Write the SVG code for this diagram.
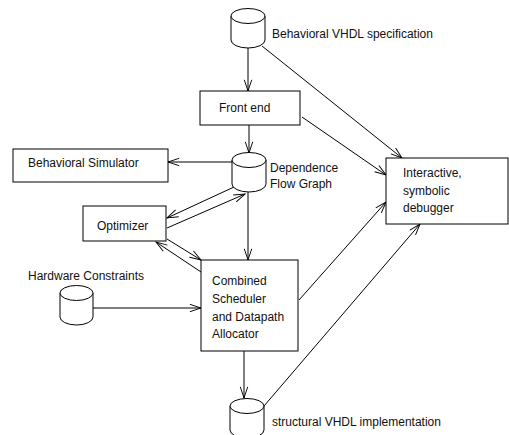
<svg xmlns="http://www.w3.org/2000/svg" width="509" height="435" viewBox="0 0 509 435">
<defs>
<style>
.box{fill:#fff;stroke:#000;stroke-width:1}
.cyl{fill:#fff;stroke:#000;stroke-width:1}
.lbl{font-family:"Liberation Sans",Arial,sans-serif;font-size:12px;fill:#111}
.conn line{stroke:#000;stroke-width:1;marker-end:url(#arr)}
</style>
<marker id="arr" markerUnits="userSpaceOnUse" markerWidth="14" markerHeight="14" viewBox="-13 -6 15 12" refX="0" refY="0" orient="auto">
<path d="M -12 -4 L 0 0 L -12 4" fill="none" stroke="#000" stroke-width="1"/>
</marker>
</defs>
<rect width="509" height="435" fill="#fff"/>
<g class="conn" id="connectors">
<line x1="248" y1="48" x2="248" y2="91"/>
<line x1="262" y1="46" x2="402" y2="158"/>
<line x1="302" y1="117" x2="386" y2="175"/>
<line x1="249" y1="125" x2="249" y2="153"/>
<line x1="232" y1="162" x2="168" y2="162"/>
<line x1="234" y1="187" x2="167" y2="218"/>
<line x1="167" y1="228" x2="245" y2="194"/>
<line x1="248" y1="192" x2="248" y2="260"/>
<line x1="167" y1="239" x2="201" y2="260"/>
<line x1="201" y1="272" x2="156" y2="242"/>
<line x1="93" y1="308" x2="201" y2="308"/>
<line x1="299" y1="300" x2="386" y2="202"/>
<line x1="244" y1="351" x2="244" y2="398"/>
<line x1="264" y1="406" x2="420" y2="224"/>
</g>
<g id="behavioral-vhdl">
<path class="cyl" d="M231 16 L231 40 A17 8 0 0 0 265 40 L265 16"/>
<ellipse class="cyl" cx="248" cy="16" rx="17" ry="7.5"/>
<text class="lbl" x="272" y="38">Behavioral VHDL specification</text>
</g>
<g id="front-end">
<rect class="box" x="200" y="91" width="100" height="34"/>
<text class="lbl" x="219" y="112">Front end</text>
</g>
<g id="behavioral-simulator">
<rect class="box" x="13" y="149" width="155" height="33"/>
<text class="lbl" x="28" y="167">Behavioral Simulator</text>
</g>
<g id="dfg">
<path class="cyl" d="M232 160 L232 184 A17 8 0 0 0 266 184 L266 160"/>
<ellipse class="cyl" cx="249" cy="160" rx="17" ry="7.5"/>
<text class="lbl" x="270" y="172">Dependence</text>
<text class="lbl" x="270" y="188">Flow Graph</text>
</g>
<g id="optimizer">
<rect class="box" x="83" y="206" width="83" height="35"/>
<text class="lbl" x="97" y="230">Optimizer</text>
</g>
<g id="hardware-constraints">
<path class="cyl" d="M60 293 L60 317 A16.5 8 0 0 0 93 317 L93 293"/>
<ellipse class="cyl" cx="76.5" cy="293" rx="16.5" ry="7.5"/>
<text class="lbl" x="28" y="280">Hardware Constraints</text>
</g>
<g id="combined">
<rect class="box" x="201" y="260" width="97" height="91"/>
<text class="lbl" x="212" y="285">Combined</text>
<text class="lbl" x="212" y="303">Scheduler</text>
<text class="lbl" x="212" y="321">and Datapath</text>
<text class="lbl" x="212" y="338">Allocator</text>
</g>
<g id="debugger">
<rect class="box" x="386" y="158" width="122" height="66"/>
<text class="lbl" x="403" y="177">Interactive,</text>
<text class="lbl" x="403" y="195">symbolic</text>
<text class="lbl" x="403" y="212">debugger</text>
</g>
<g id="structural-vhdl">
<path class="cyl" d="M230 406 L230 430 A17 8 0 0 0 264 430 L264 406"/>
<ellipse class="cyl" cx="247" cy="406" rx="17" ry="7.5"/>
<text class="lbl" x="272" y="426">structural VHDL implementation</text>
</g>
</svg>
